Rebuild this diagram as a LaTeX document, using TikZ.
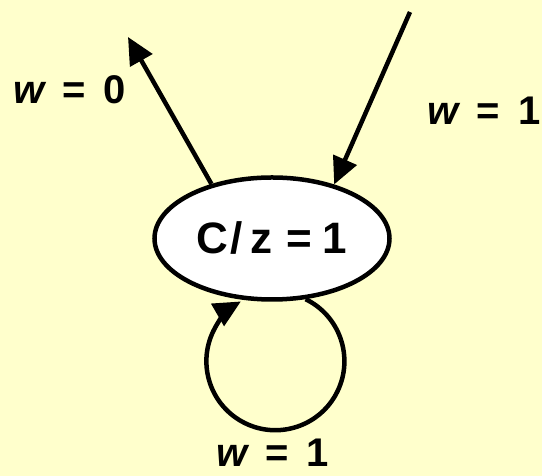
\documentclass[tikz,border=0pt]{standalone}
\usepackage{fontspec}
\setmainfont{Liberation Sans}
\usetikzlibrary{arrows.meta,shapes.geometric}
\definecolor{bgyellow}{HTML}{FFFFCC}

\begin{document}
\begin{tikzpicture}[x=1pt,y=1pt,
  arr/.style={line width=4.5pt,-{Triangle[length=27pt,width=25pt]}},
  statebox/.style={ellipse,draw,fill=white,line width=4.5pt,inner sep=0pt,
    minimum width=235pt,minimum height=122pt,
    font=\fontsize{44}{50}\selectfont\bfseries},
  lbl/.style={anchor=base,font=\fontsize{40}{46}\selectfont\bfseries}]
  \fill[bgyellow] (0,0) rectangle (542,476);
  \useasboundingbox (0,0) rectangle (542,476);
  \node[statebox] (st) at (272,237.5) {C\hspace{0.05em}/\hspace{0.18em}z\hspace{0.3em}=\hspace{0.25em}1};
  \coordinate (outEnd) at (128,439);
  \coordinate (inStart) at (410,464);
  \draw[arr] (st.138.7) -- (outEnd);
  \draw[arr] (inStart) -- (st.41.5);
  \draw[arr] (st.-61.6) arc[start angle=64,end angle=-240,radius=69];
  \node[lbl] (lblOut) at (69.5,372) {\textit{w}\hspace{0.4em}=\hspace{0.45em}0};
  \node[lbl] (lblIn) at (484,351) {\textit{w}\hspace{0.4em}=\hspace{0.45em}1};
  \node[lbl] (lblLoop) at (272.5,9) {\textit{w}\hspace{0.4em}=\hspace{0.45em}1};
\end{tikzpicture}
\end{document}
